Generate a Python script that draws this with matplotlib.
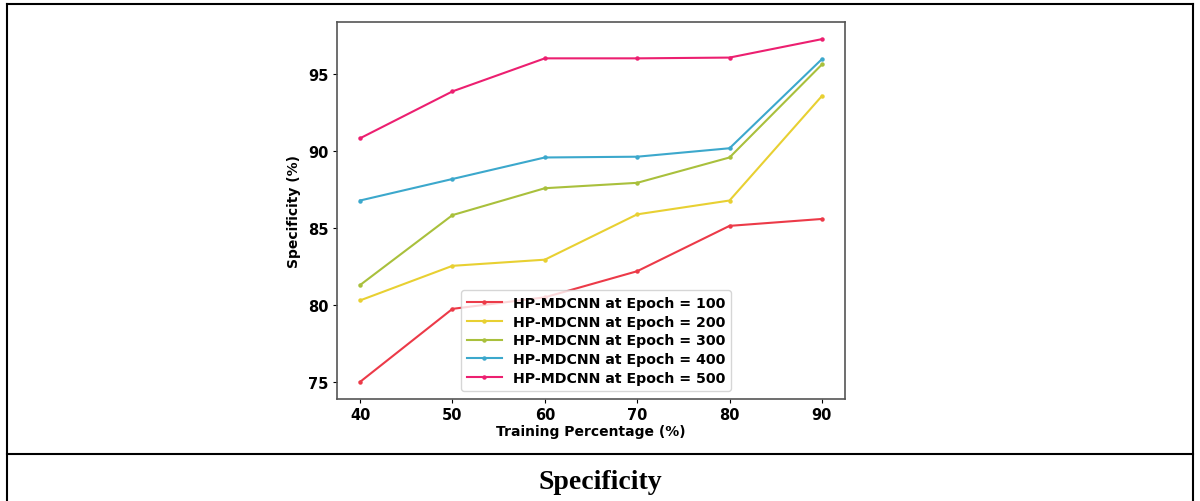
import matplotlib.pyplot as plt
from matplotlib.lines import Line2D

# training percentage on x
training = [40, 50, 60, 70, 80, 90]

# specificity for each epoch setting
epoch100 = [75.0, 79.75, 80.5, 82.2, 85.15, 85.6]
epoch200 = [80.3, 82.55, 82.95, 85.9, 86.8, 93.6]
epoch300 = [81.3, 85.85, 87.6, 87.95, 89.6, 95.65]
epoch400 = [86.8, 88.2, 89.6, 89.65, 90.2, 96.0]
epoch500 = [90.85, 93.9, 96.05, 96.05, 96.1, 97.3]

labels = ["HP-MDCNN at Epoch = 100", "HP-MDCNN at Epoch = 200",
          "HP-MDCNN at Epoch = 300", "HP-MDCNN at Epoch = 400",
          "HP-MDCNN at Epoch = 500"]
colors = ['#ec3a48', '#e8d032', '#a9c03c', '#3ca8cc', '#ec1f70']

fig = plt.figure(figsize=(12, 5.02), dpi=100)
ax = fig.add_axes([337/1200, 1-400/502, (845-337)/1200, (400-23)/502])

series = [epoch100, epoch200, epoch300, epoch400, epoch500]
for vals, lab, c in zip(series, labels, colors):
    ax.plot(training, vals, color=c, marker='o', markersize=2.2, linewidth=1.5, label=lab)

ax.set_xticks(training)
ax.set_yticks([75, 80, 85, 90, 95])
ax.tick_params(length=3, pad=3)
for t in ax.get_xticklabels() + ax.get_yticklabels():
    t.set_fontweight('bold')
    t.set_fontsize(10.5)
ax.set_xlabel('Training Percentage (%)', fontweight='bold', fontsize=10, labelpad=1)
ax.set_ylabel('Specificity (%)', fontweight='bold', fontsize=10, labelpad=5)
for s in ax.spines.values():
    s.set_color('#555555')
    s.set_linewidth(1.2)

leg = ax.legend(loc='lower center', bbox_to_anchor=(0.51, 0.0), frameon=True,
                prop={'weight': 'bold', 'size': 10.2}, handlelength=2.5,
                labelspacing=0.33, borderaxespad=0.6)
leg.get_frame().set_edgecolor('#cccccc')

# table borders around the figure
kw = dict(color='black', linewidth=1.5, transform=fig.transFigure)
fig.add_artist(Line2D([7/1200, 1193/1200], [1-5/502, 1-5/502], **kw))
fig.add_artist(Line2D([7/1200, 7/1200], [0, 1-5/502], **kw))
fig.add_artist(Line2D([1193/1200, 1193/1200], [0, 1-5/502], **kw))
fig.add_artist(Line2D([7/1200, 1193/1200], [1-455/502, 1-455/502], **kw))

fig.text(0.5, 1-483/502, 'Specificity', ha='center', va='center',
         fontsize=20, fontweight='bold', family='Liberation Serif')

fig.savefig('out.png', dpi=100)
